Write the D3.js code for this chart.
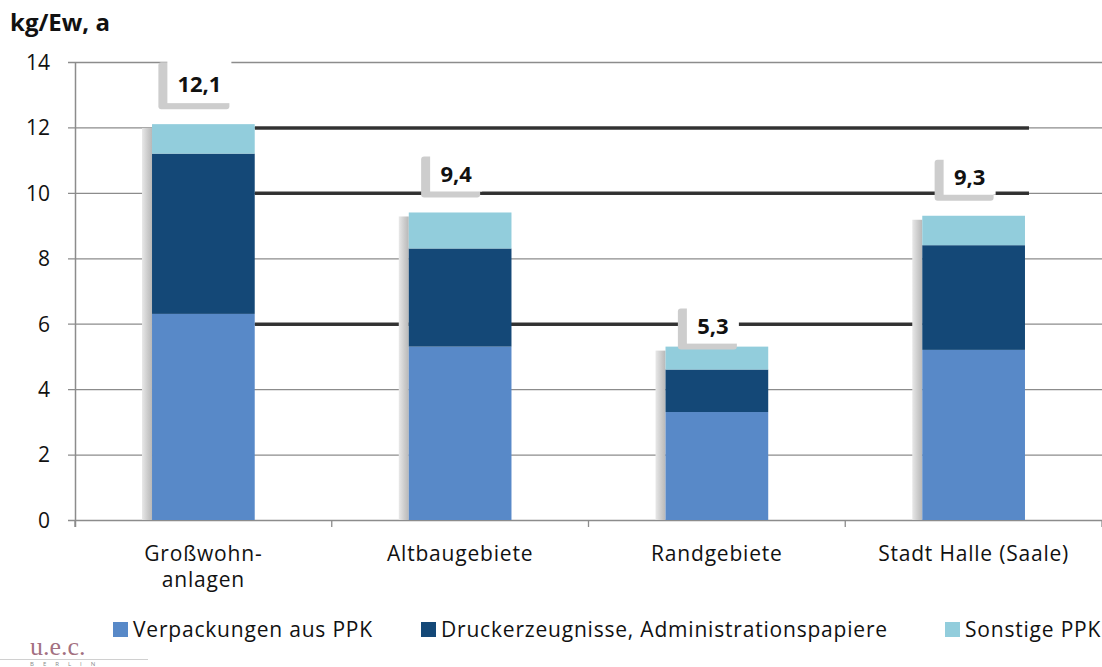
<!DOCTYPE html>
<html>
<head>
<meta charset="utf-8">
<script src="https://cdn.jsdelivr.net/npm/d3@7"></script>
<style>
  body { margin: 0; background: #fff; }
  svg { font-family: "Open Sans", "Noto Sans", sans-serif; }
</style>
</head>
<body>
<svg id="chart" width="1102" height="667"></svg>
<script>
// data
var categories = ["Großwohn-\nanlagen", "Altbaugebiete", "Randgebiete", "Stadt Halle (Saale)"];
var seriesNames = ["Verpackungen aus PPK", "Druckerzeugnisse, Administrationspapiere", "Sonstige PPK"];
var verpackungen = [6.3, 5.3, 3.3, 5.2];
var drucker = [4.9, 3.0, 1.3, 3.2];
var sonstige = [0.9, 1.1, 0.7, 0.9];
var totals = [12.1, 9.4, 5.3, 9.3];
var yTicks = [0, 2, 4, 6, 8, 10, 12, 14];

var colors = ["#5889c8", "#144877", "#92cddc"];
var gridColor = "#8c8c8c";
var labelLift = [40, 38, 20, 38];

var svg = d3.select("#chart");
var plotLeft = 75, plotRight = 1102, plotTop = 62, plotBottom = 520;

var x = d3.scaleBand().domain(d3.range(categories.length)).range([plotLeft, plotRight]).paddingInner(0).paddingOuter(0);
var y = d3.scaleLinear().domain([0, 14]).range([plotBottom, plotTop]);
var barW = x.bandwidth() * 0.4;

function mid(i) { return x(i) + x.bandwidth() / 2; }

// gridlines
svg.append("g").selectAll("line").data(yTicks).enter().append("line")
  .attr("x1", plotLeft - 7).attr("x2", plotRight)
  .attr("y1", function (d) { return y(d) + 0.5; })
  .attr("y2", function (d) { return y(d) + 0.5; })
  .attr("stroke", gridColor).attr("stroke-width", 1.3);

// dark smeared lines between bars (as in the reference)
var darkLines = [[12, 3], [10, 3], [6, 2]];
svg.append("g").selectAll("line").data(darkLines).enter().append("line")
  .attr("x1", mid(0) + barW / 2)
  .attr("x2", function (d) {
    return d[1] == 3 ? mid(3) + barW / 2 + 4 : mid(3) - barW / 2 - 8;
  })
  .attr("y1", function (d) { return y(d[0]) + 0.5; })
  .attr("y2", function (d) { return y(d[0]) + 0.5; })
  .attr("stroke", "#2a2a2a").attr("stroke-width", 3.5)
  .attr("stroke-opacity", 0.95);

// y axis
var yAxis = d3.axisLeft(y).tickValues(yTicks).tickSize(0).tickPadding(0);
var ya = svg.append("g").attr("transform", "translate(" + plotLeft + ",0)").call(yAxis);
ya.select(".domain").remove();
ya.selectAll("text").attr("x", -25).attr("dy", "0.35em")
  .style("font-size", "21px").style("font-family", "'Open Sans', sans-serif").attr("fill", "#111");
svg.append("line").attr("x1", plotLeft + 0.5).attr("x2", plotLeft + 0.5)
  .attr("y1", plotTop).attr("y2", plotBottom + 7).attr("stroke", gridColor).attr("stroke-width", 1.5);

// x axis ticks
svg.append("g").selectAll("line").data(d3.range(categories.length + 1)).enter().append("line")
  .attr("x1", function (d) { return plotLeft + d * x.step(); })
  .attr("x2", function (d) { return plotLeft + d * x.step(); })
  .attr("y1", plotBottom).attr("y2", plotBottom + 7)
  .attr("stroke", gridColor).attr("stroke-width", 1.3);

// stacked bars
var rows = categories.map(function (c, i) { return { i: i, v0: verpackungen[i], v1: drucker[i], v2: sonstige[i] }; });
var stacked = d3.stack().keys(["v0", "v1", "v2"])(rows);

// bar shadows on the left side
var shadowGrad = svg.append("defs").append("linearGradient").attr("id", "shadow")
  .attr("x1", "0").attr("x2", "1").attr("y1", "0").attr("y2", "0");
shadowGrad.append("stop").attr("offset", "0").attr("stop-color", "#e8e8e8");
shadowGrad.append("stop").attr("offset", "0.6").attr("stop-color", "#cacaca");
shadowGrad.append("stop").attr("offset", "1").attr("stop-color", "#b8b8b8");

svg.append("g").selectAll("rect").data(totals).enter().append("rect")
  .attr("x", function (d, i) { return mid(i) - barW / 2 - 10; })
  .attr("width", 10)
  .attr("y", function (d) { return y(d) + 4; })
  .attr("height", function (d) { return plotBottom - y(d) - 4; })
  .attr("fill", "url(#shadow)");

svg.append("g").selectAll("g").data(stacked).enter().append("g")
  .attr("fill", function (d, k) { return colors[k]; })
  .selectAll("rect").data(function (d) { return d; }).enter().append("rect")
  .attr("x", function (d) { return mid(d.data.i) - barW / 2; })
  .attr("width", barW)
  .attr("y", function (d) { return y(d[1]); })
  .attr("height", function (d) { return y(d[0]) - y(d[1]); });

// total labels in boxes
var lab = svg.append("g").selectAll("g").data(totals).enter().append("g")
  .attr("transform", function (d, i) {
    return "translate(" + (mid(i) - 5) + "," + (y(d) - labelLift[i]) + ")";
  });
lab.append("rect")
  .attr("x", function (d, i) { return i == 0 ? -40 : -34; })
  .attr("y", function (d, i) { return i == 0 ? -22 : -18; })
  .attr("width", function (d, i) { return i == 0 ? 71 : 59; })
  .attr("height", function (d, i) { return i == 0 ? 47 : 41; })
  .attr("fill", "#cdcdcd").attr("rx", 3);
lab.append("rect")
  .attr("x", function (d, i) { return i == 0 ? -31 : -25; })
  .attr("y", function (d, i) { return i == 0 ? -25 : -21; })
  .attr("width", function (d, i) { return i == 0 ? 64 : 52; })
  .attr("height", function (d, i) { return i == 0 ? 44 : 38; })
  .attr("fill", "#fff");
lab.append("text").attr("x", 1).attr("y", 0).attr("dy", "0.35em")
  .attr("text-anchor", "middle")
  .style("font-size", "22px").style("font-weight", "bold").attr("fill", "#111")
  .text(function (d) { return String(d).replace(".", ","); });

// category labels
var cat = svg.append("g").selectAll("text").data(categories).enter().append("text")
  .attr("x", function (d, i) { return mid(i); })
  .attr("y", 561)
  .attr("text-anchor", "middle")
  .style("font-size", "21px").style("letter-spacing", "0.8px").attr("fill", "#111");
cat.selectAll("tspan").data(function (d) { return d.split("\n"); }).enter().append("tspan")
  .attr("x", function () { return d3.select(this.parentNode).attr("x"); })
  .attr("dy", function (d, j) { return j == 0 ? 0 : 26; })
  .text(function (d) { return d; });

// y title
svg.append("text").attr("x", 10).attr("y", 31)
  .style("font-size", "24px").style("font-weight", "bold").attr("fill", "#111")
  .text("kg/Ew, a");

// legend
var legendX = [113, 421, 945];
var leg = svg.append("g").selectAll("g").data(seriesNames).enter().append("g")
  .attr("transform", function (d, i) { return "translate(" + legendX[i] + ",622)"; });
leg.append("rect").attr("width", 15).attr("height", 15)
  .attr("fill", function (d, i) { return colors[i]; });
leg.append("text").attr("x", 20).attr("y", 8).attr("dy", "0.35em")
  .style("font-size", "21px").style("letter-spacing", "0.8px").attr("fill", "#111")
  .text(function (d) { return d; });

// logo
svg.append("text").attr("x", 30).attr("y", 655)
  .style("font-family", "'Liberation Serif', serif").style("font-size", "26px")
  .attr("fill", "#8a4a5e").attr("fill-opacity", 0.8).text("u.e.c.");
svg.append("line").attr("x1", 0).attr("x2", 148).attr("y1", 659.5).attr("y2", 659.5)
  .attr("stroke", "#d0d0d0");
svg.append("text").attr("x", 30).attr("y", 666)
  .style("font-size", "6px").style("letter-spacing", "9px").attr("fill", "#888").text("BERLIN");
</script>
</body>
</html>
